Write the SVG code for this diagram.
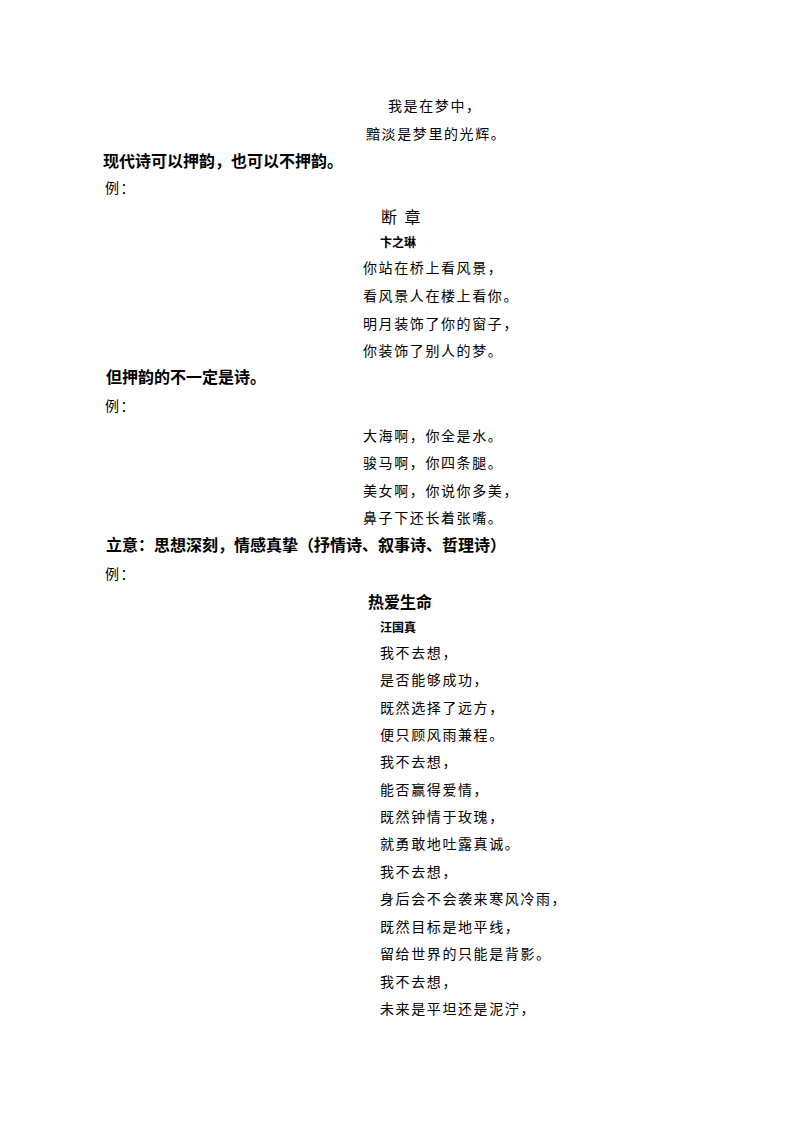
<svg xmlns="http://www.w3.org/2000/svg" width="800" height="1132" viewBox="0 0 800 1132">
<style>
text{font-family:"Noto Sans CJK SC","Liberation Serif",sans-serif;fill:#000}
.p{font-size:14px;letter-spacing:1.6px}
.h{font-size:16px;font-weight:bold}
.a{font-size:12px;font-weight:bold}
.t{font-size:16px;font-weight:bold}
</style>
<rect width="800" height="1132" fill="#fff"/>
<text class="p" x="388" y="111">我是在梦中，</text>
<text class="p" x="366" y="139">黯淡是梦里的光辉。</text>
<text class="h" x="103" y="167">现代诗可以押韵，也可以不押韵。</text>
<text class="p" x="105" y="193">例：</text>
<text x="381" y="223" style="font-size:16px;letter-spacing:2px">断 章</text>
<text class="a" x="380" y="247">卞之琳</text>
<text class="p" x="363" y="273">你站在桥上看风景，</text>
<text class="p" x="363" y="301">看风景人在楼上看你。</text>
<text class="p" x="363" y="329">明月装饰了你的窗子，</text>
<text class="p" x="363" y="356">你装饰了别人的梦。</text>
<text class="h" x="106" y="383">但押韵的不一定是诗。</text>
<text class="p" x="105" y="411">例：</text>
<text class="p" x="363" y="441">大海啊，你全是水。</text>
<text class="p" x="363" y="468">骏马啊，你四条腿。</text>
<text class="p" x="363" y="496">美女啊，你说你多美，</text>
<text class="p" x="363" y="523">鼻子下还长着张嘴。</text>
<text class="h" x="106" y="551">立意：思想深刻，情感真挚（抒情诗、叙事诗、哲理诗）</text>
<text class="p" x="105" y="579">例：</text>
<text class="t" x="368" y="608">热爱生命</text>
<text class="a" x="380" y="632">汪国真</text>
<text class="p" x="380" y="658">我不去想，</text>
<text class="p" x="380" y="685">是否能够成功，</text>
<text class="p" x="380" y="713">既然选择了远方，</text>
<text class="p" x="380" y="740">便只顾风雨兼程。</text>
<text class="p" x="380" y="767">我不去想，</text>
<text class="p" x="380" y="795">能否赢得爱情，</text>
<text class="p" x="380" y="822">既然钟情于玫瑰，</text>
<text class="p" x="380" y="849">就勇敢地吐露真诚。</text>
<text class="p" x="380" y="877">我不去想，</text>
<text class="p" x="380" y="904">身后会不会袭来寒风冷雨，</text>
<text class="p" x="380" y="932">既然目标是地平线，</text>
<text class="p" x="380" y="959">留给世界的只能是背影。</text>
<text class="p" x="380" y="987">我不去想，</text>
<text class="p" x="380" y="1014">未来是平坦还是泥泞，</text>
</svg>
